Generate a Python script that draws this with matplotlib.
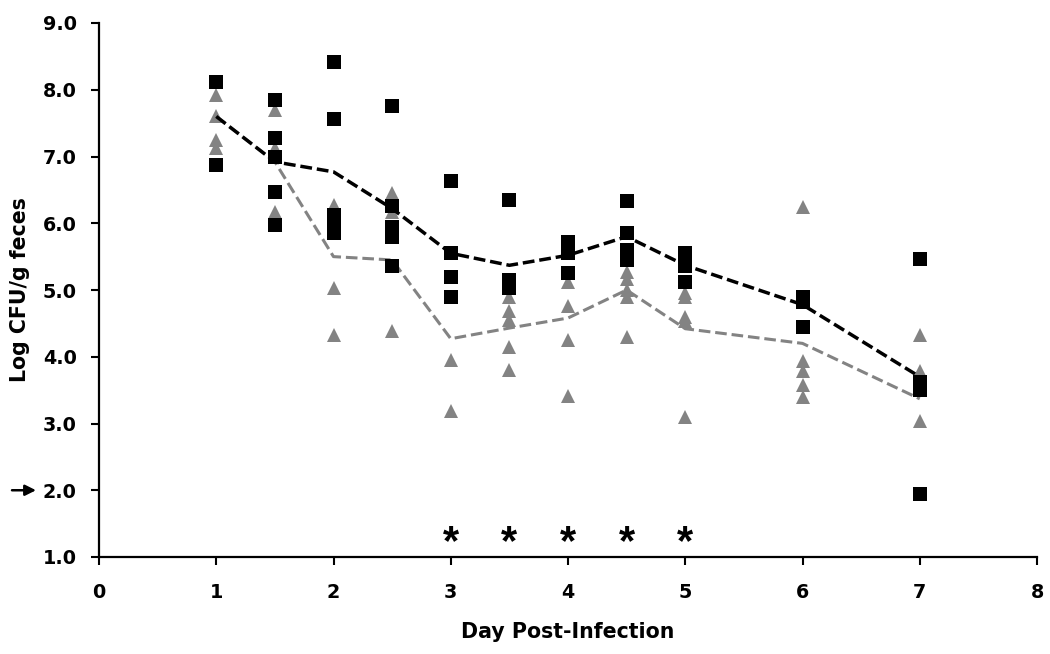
import matplotlib
matplotlib.use("Agg")
import matplotlib.pyplot as plt

# ---- data ----
days_sq = [1, 1,
           1.5, 1.5, 1.5, 1.5, 1.5,
           2, 2, 2, 2, 2,
           2.5, 2.5, 2.5, 2.5, 2.5,
           3, 3, 3, 3,
           3.5, 3.5, 3.5,
           4, 4, 4,
           4.5, 4.5, 4.5, 4.5,
           5, 5, 5,
           6, 6, 6,
           7, 7, 7, 7]
cfu_sq = [8.11, 6.87,
          7.85, 7.27, 7.00, 6.47, 5.98,
          8.41, 7.56, 6.12, 6.02, 5.85,
          7.76, 6.26, 5.95, 5.80, 5.36,
          6.64, 5.56, 5.20, 4.89,
          6.35, 5.15, 5.03,
          5.72, 5.55, 5.25,
          6.33, 5.85, 5.60, 5.45,
          5.55, 5.36, 5.12,
          4.90, 4.82, 4.45,
          5.47, 3.62, 3.50, 1.95]

days_tri = [1, 1, 1, 1,
            1.5, 1.5, 1.5,
            2, 2, 2,
            2.5, 2.5, 2.5,
            3, 3,
            3.5, 3.5, 3.5, 3.5, 3.5,
            4, 4, 4, 4,
            4.5, 4.5, 4.5, 4.5, 4.5,
            5, 5, 5, 5, 5,
            6, 6, 6, 6, 6,
            7, 7, 7]
cfu_tri = [7.92, 7.61, 7.25, 7.12,
           7.70, 7.12, 6.17,
           6.27, 5.03, 4.33,
           6.46, 6.17, 4.38,
           3.95, 3.19,
           4.90, 4.69, 4.55, 4.14, 3.80,
           5.12, 4.76, 4.25, 3.41,
           5.27, 5.16, 5.00, 4.89, 4.30,
           4.95, 4.89, 4.60, 4.53, 3.10,
           6.25, 3.93, 3.78, 3.58, 3.40,
           4.33, 3.78, 3.03]

mean_days = [1, 1.5, 2, 2.5, 3, 3.5, 4, 4.5, 5, 6, 7]
mean_sq = [7.60, 6.92, 6.77, 6.22, 5.55, 5.37, 5.52, 5.80, 5.37, 4.78, 3.70]
mean_tri = [7.60, 6.92, 5.50, 5.45, 4.27, 4.43, 4.58, 5.00, 4.42, 4.20, 3.37]

sig_days = [3, 3.5, 4, 4.5, 5]
sig_level = 1.33
detect_limit = 2.0

xticks = [0, 1, 2, 3, 4, 5, 6, 7, 8]
yticks = [1.0, 2.0, 3.0, 4.0, 5.0, 6.0, 7.0, 8.0, 9.0]
xlabel = "Day Post-Infection"
ylabel = "Log CFU/g feces"

# ---- figure ----
fig = plt.figure(figsize=(10.5, 6.54), dpi=100)
ax = fig.add_axes([99 / 1050, 1 - 557 / 654, (1037 - 99) / 1050, (557 - 23) / 654])

gray = "#838383"
ax.plot(days_tri, cfu_tri, linestyle="none", marker="^", markersize=9.5,
        color=gray, markeredgewidth=0, zorder=3)
ax.plot(mean_days, mean_tri, color=gray, lw=2.2, dashes=(3.8, 1.6), zorder=4)
ax.plot(mean_days, mean_sq, color="black", lw=2.5, dashes=(3.4, 1.4), zorder=4)
ax.plot(days_sq, cfu_sq, linestyle="none", marker="s", markersize=10,
        color="black", markeredgewidth=0, zorder=5)

for d in sig_days:
    ax.annotate("*", xy=(d, sig_level), xytext=(0, -13.5), textcoords="offset points",
                ha="center", va="baseline", fontsize=30, fontweight="bold",
                family="Liberation Sans", annotation_clip=False)

ax.set_xlim(0, 8)
ax.set_ylim(1, 9)
ax.set_xticks(xticks)
ax.set_yticks(yticks)
ax.set_yticklabels([f"{v:.1f}" for v in yticks])

for s in ["top", "right"]:
    ax.spines[s].set_visible(False)
for s in ["left", "bottom"]:
    ax.spines[s].set_linewidth(1.6)
    ax.spines[s].set_color("black")

ax.tick_params(axis="both", direction="out", length=6, width=1.5, color="black")
ax.tick_params(axis="y", pad=10)
ax.tick_params(axis="x", pad=13)
for lab in ax.get_xticklabels() + ax.get_yticklabels():
    lab.set_fontsize(13.8)
    lab.set_fontweight("bold")
    lab.set_family("DejaVu Sans")

ax.set_xlabel(xlabel, fontsize=14.8, fontweight="bold", family="DejaVu Sans", labelpad=14)
ax.set_ylabel(ylabel, fontsize=14.8, fontweight="bold", family="DejaVu Sans", labelpad=9)

# detection limit arrow
ax.annotate("", xy=(36 / 1050, detect_limit), xytext=(12 / 1050, detect_limit),
            xycoords=("figure fraction", "data"), textcoords=("figure fraction", "data"),
            arrowprops=dict(arrowstyle="-|>", color="black", lw=1.8, mutation_scale=16,
                            shrinkA=0, shrinkB=0),
            annotation_clip=False)

fig.savefig("out.png", dpi=100)
